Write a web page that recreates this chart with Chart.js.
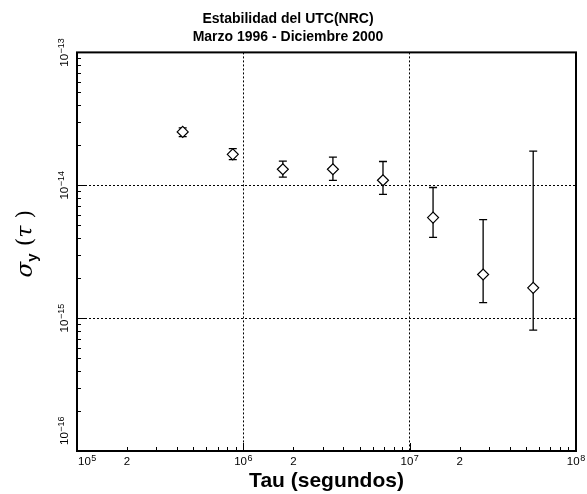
<!DOCTYPE html>
<html><head><meta charset="utf-8">
<script src="https://cdn.jsdelivr.net/npm/chart.js@4.4.0/dist/chart.umd.min.js"></script>
<style>html,body{margin:0;padding:0;background:#fff;}</style>
</head><body>
<canvas id="c" width="587" height="494"></canvas>
<script>
const titleLines = ['Estabilidad del UTC(NRC)', 'Marzo 1996 - Diciembre 2000'];
const xTitle = 'Tau (segundos)';
const tauSeconds = [432000, 864000, 1728000, 3456000, 6912000, 13824000, 27648000, 55296000];
const sigmaY     = [2.52e-14, 1.71e-14, 1.32e-14, 1.32e-14, 1.09e-14, 5.71e-15, 2.13e-15, 1.69e-15];
const sigmaUpper = [2.70e-14, 1.89e-14, 1.52e-14, 1.63e-14, 1.51e-14, 9.62e-15, 5.52e-15, 1.81e-14];
const sigmaLower = [2.32e-14, 1.56e-14, 1.15e-14, 1.09e-14, 8.55e-15, 4.05e-15, 1.31e-15, 8.13e-16];
const xTickValues = [1e5, 2e5, 1e6, 2e6, 1e7, 2e7, 1e8];
const xTickLabels = ['10^5', '2', '10^6', '2', '10^7', '2', '10^8'];
const yTickValues = [1e-16, 1e-15, 1e-14, 1e-13];
const yTickLabels = ['10^\u221216', '10^\u221215', '10^\u221214', '10^\u221213'];
const xGridValues = [1e6, 1e7];
const yGridValues = [1e-15, 1e-14];

const FONT = '"Liberation Sans", Arial, sans-serif';
function isIn(list, v) { return list.some(g => Math.abs(Math.log10(g) - Math.log10(v)) < 1e-6); }

function drawPow(ctx, label, align) {
  const [base, exp] = label.split('^');
  ctx.font = '11.5px ' + FONT;
  const wb = ctx.measureText(base).width;
  let we = 0;
  if (exp) { ctx.font = '9px ' + FONT; we = ctx.measureText(exp).width + 0.5; }
  const x0 = align === 'left' ? 0 : -(wb + we) / 2;
  ctx.textAlign = 'left';
  ctx.textBaseline = 'alphabetic';
  ctx.font = '11.5px ' + FONT;
  ctx.fillText(base, x0, 0);
  if (exp) { ctx.font = '9px ' + FONT; ctx.fillText(exp, x0 + wb + 0.5, -4.5); }
}

const decor = {
  id: 'decor',
  beforeDatasetsDraw(chart) {
    const ctx = chart.ctx, xs = chart.scales.x, ys = chart.scales.y;
    ctx.save();
    ctx.strokeStyle = '#000';
    ctx.lineWidth = 1.3;
    tauSeconds.forEach((t, i) => {
      const px = xs.getPixelForValue(t);
      const pt = ys.getPixelForValue(sigmaUpper[i]);
      const pb = ys.getPixelForValue(sigmaLower[i]);
      ctx.beginPath();
      ctx.moveTo(px, pt); ctx.lineTo(px, pb);
      ctx.moveTo(px - 4, pt); ctx.lineTo(px + 4, pt);
      ctx.moveTo(px - 4, pb); ctx.lineTo(px + 4, pb);
      ctx.stroke();
    });
    ctx.restore();
  },
  afterDraw(chart) {
    const ctx = chart.ctx, xs = chart.scales.x, ys = chart.scales.y, a = chart.chartArea;
    ctx.save();
    ctx.strokeStyle = '#000';
    ctx.lineWidth = 2;
    ctx.strokeRect(a.left, a.top, a.right - a.left, a.bottom - a.top);
    ctx.lineWidth = 1;
    ctx.beginPath();
    for (let d = 5; d <= 7; d++) {
      for (let m = 1; m <= 9; m++) {
        const px = Math.round(xs.getPixelForValue(m * Math.pow(10, d))) + 0.5;
        const len = m === 1 ? 8 : 4;
        ctx.moveTo(px, a.bottom); ctx.lineTo(px, a.bottom - len);
      }
    }
    for (let d = -16; d <= -14; d++) {
      for (let m = 1; m <= 9; m++) {
        const py = Math.round(ys.getPixelForValue(m * Math.pow(10, d))) + 0.5;
        const len = m === 1 ? 8 : 4;
        ctx.moveTo(a.left, py); ctx.lineTo(a.left + len, py);
      }
    }
    ctx.stroke();
    ctx.fillStyle = '#000';
    xTickValues.forEach((v, i) => {
      const px = xs.getPixelForValue(v);
      ctx.save();
      if (i === 0) { ctx.translate(px + 1, a.bottom + 14); drawPow(ctx, xTickLabels[i], 'left'); }
      else { ctx.translate(px, a.bottom + 14); drawPow(ctx, xTickLabels[i], 'center'); }
      ctx.restore();
    });
    yTickValues.forEach((v, i) => {
      const py = ys.getPixelForValue(v);
      ctx.save();
      if (i === 0) {
        ctx.translate(68, py - 6);
        ctx.rotate(-Math.PI / 2);
        drawPow(ctx, yTickLabels[i], 'left');
      } else {
        ctx.translate(68, py);
        ctx.rotate(-Math.PI / 2);
        drawPow(ctx, yTickLabels[i], 'center');
      }
      ctx.restore();
    });
    const cy = (a.top + a.bottom) / 2 - 8;
    ctx.save();
    ctx.translate(32, cy);
    ctx.rotate(-Math.PI / 2);
    ctx.textAlign = 'left';
    ctx.textBaseline = 'alphabetic';
    const parts = [
      { t: '\u03C3', f: 'italic 23px "DejaVu Serif", serif', dy: 0 },
      { t: 'y', f: 'bold 15px ' + FONT, dy: 5 },
      { t: ' (', f: '22px "DejaVu Serif", serif', dy: 0 },
      { t: '\u03C4', f: 'italic 22px "DejaVu Serif", serif', dy: 0 },
      { t: ' )', f: '22px "DejaVu Serif", serif', dy: 0 }
    ];
    let total = 0;
    parts.forEach(p => { ctx.font = p.f; p.w = ctx.measureText(p.t).width; total += p.w; });
    let xx = -total / 2;
    parts.forEach(p => { ctx.font = p.f; ctx.fillText(p.t, xx, p.dy); xx += p.w; });
    ctx.restore();
    ctx.restore();
  }
};

new Chart(document.getElementById('c'), {
  type: 'scatter',
  data: {
    datasets: [{
      data: tauSeconds.map((t, i) => ({ x: t, y: sigmaY[i] })),
      pointStyle: 'rectRot',
      pointRadius: 5.5,
      pointHoverRadius: 5.5,
      borderColor: '#000',
      backgroundColor: '#fff',
      borderWidth: 1.2,
      showLine: false
    }]
  },
  options: {
    responsive: false,
    animation: false,
    devicePixelRatio: 1,
    layout: { padding: { left: 0, right: 11, top: 0, bottom: 0 } },
    plugins: {
      legend: { display: false },
      tooltip: { enabled: false },
      title: {
        display: true,
        text: titleLines,
        color: '#000',
        font: { family: FONT, size: 14, weight: 'bold', lineHeight: 1.3 },
        padding: { top: 10, bottom: 6 }
      }
    },
    scales: {
      x: {
        type: 'logarithmic',
        min: 1e5, max: 1e8,
        afterBuildTicks(s) { s.ticks = xTickValues.map(v => ({ value: v })); },
        afterFit(s) { s.height = 43; },
        ticks: { display: false },
        grid: {
          drawTicks: false,
          lineWidth: 1,
          color: c => (c.tick && isIn(xGridValues, c.tick.value)) ? '#000' : 'rgba(0,0,0,0)'
        },
        border: { display: false, dash: [2, 2] },
        title: {
          display: true, text: xTitle, color: '#000',
          font: { family: FONT, size: 21, weight: 'bold' },
          padding: { top: 0, bottom: 0 }
        }
      },
      y: {
        type: 'logarithmic',
        min: 1e-16, max: 1e-13,
        afterBuildTicks(s) { s.ticks = yTickValues.map(v => ({ value: v })); },
        afterFit(s) { s.width = 77; },
        ticks: { display: false },
        grid: {
          drawTicks: false,
          lineWidth: 1,
          color: c => (c.tick && isIn(yGridValues, c.tick.value)) ? '#000' : 'rgba(0,0,0,0)'
        },
        border: { display: false, dash: [2, 2] }
      }
    }
  },
  plugins: [decor]
});
</script>
</body></html>
